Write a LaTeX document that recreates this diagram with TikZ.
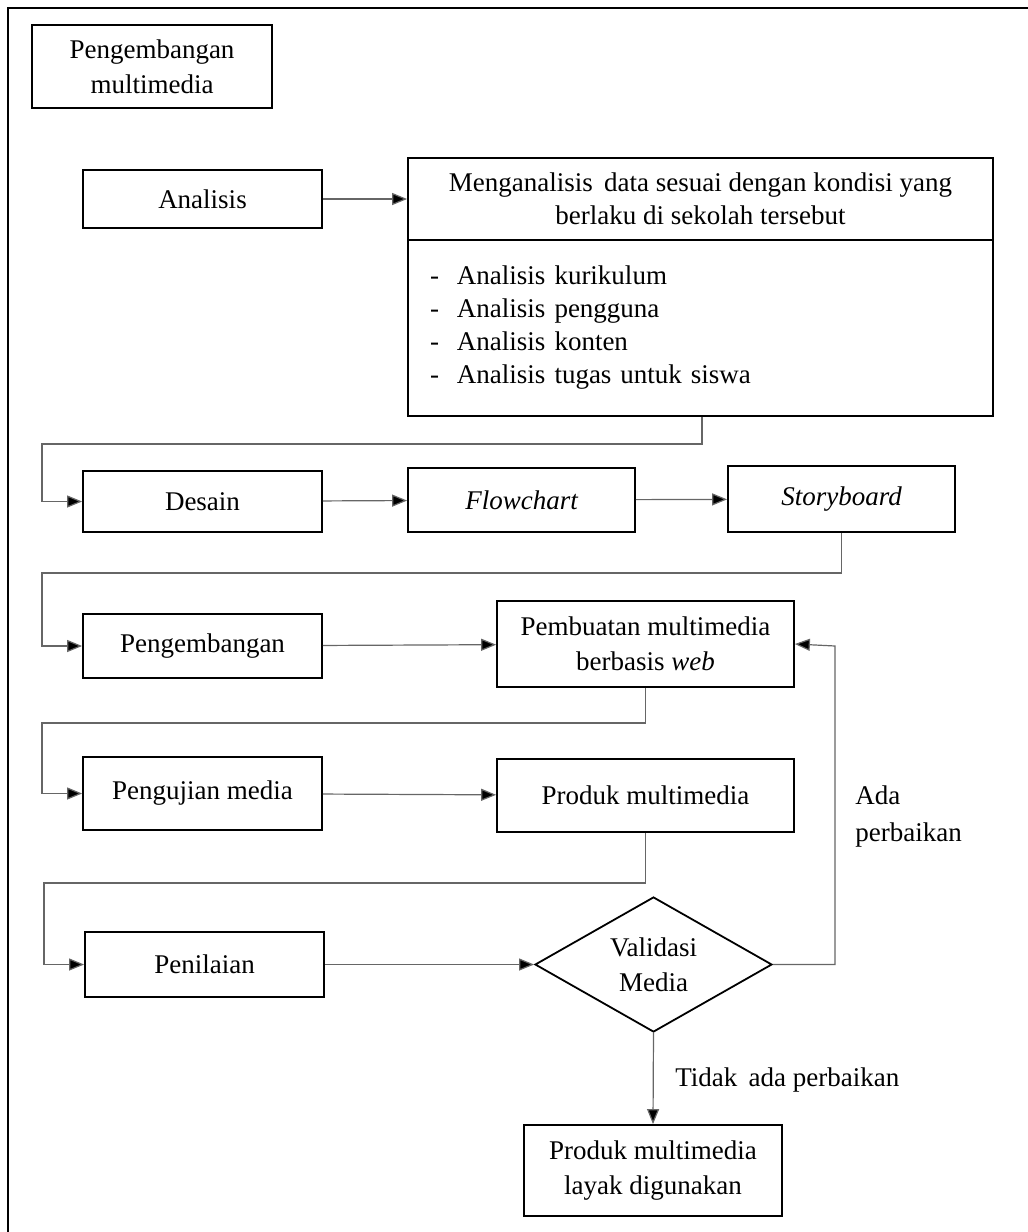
\documentclass[tikz,border=0pt]{standalone}
\usepackage{fontspec}
\setmainfont{Liberation Serif}
\usetikzlibrary{arrows.meta,shapes.geometric,positioning}

\begin{document}
\begin{tikzpicture}[
    x=0.5pt, y=-0.5pt,
    font=\fontsize{13.5}{16.5}\selectfont,
    stepbox/.style={draw, line width=0.9pt, align=center, inner sep=0pt},
    decision/.style={diamond, draw, line width=0.9pt, align=center, inner sep=0pt, aspect=1.75},
    link/.style={draw=black!60, line width=0.6pt, -{Triangle[length=7.5pt,width=6pt,fill=black]}},
    note/.style={inner sep=0pt, align=left},
    ]
    \useasboundingbox (0,0) rectangle (1028,1232);
    \draw[line width=1pt] (8,1250) -- (8,8) -- (1040,8);
    \node[stepbox, minimum width=120pt, minimum height=41.5pt] (judul) at (152,66.5) {Pengembangan\\[1pt]multimedia};
    \node[stepbox, minimum width=119.5pt, minimum height=29pt] (analisis) at (202.5,199) {Analisis};
    \node[stepbox, minimum width=292.5pt, minimum height=41pt] (tujuan) at (700.5,199) {Menganalisis\ \,data sesuai dengan kondisi yang\\berlaku di sekolah tersebut};
    \node[stepbox, minimum width=292.5pt, minimum height=88pt, align=left, text width=270.5pt] (daftar) at (700.5,328)
      {\makebox[13.5pt][l]{-}Analisis kurikulum\\
       \makebox[13.5pt][l]{-}Analisis pengguna\\
       \makebox[13.5pt][l]{-}Analisis konten\\
       \makebox[13.5pt][l]{-}Analisis tugas untuk siswa};
    \node[stepbox, minimum width=119.5pt, minimum height=30.5pt] (desain) at (202.5,501.5) {Desain};
    \node[stepbox, minimum width=113.5pt, minimum height=32pt] (flowchart) at (521.5,500) {\itshape Flowchart};
    \node[stepbox, minimum width=113.5pt, minimum height=33pt] (storyboard) at (841.5,499) {\itshape Storyboard};
    \node[stepbox, minimum width=119.5pt, minimum height=32pt] (pengembangan) at (202.5,646) {Pengembangan};
    \node[stepbox, minimum width=148.5pt, minimum height=43pt] (pembuatan) at (645.5,644) {Pembuatan multimedia\\[1pt]berbasis \textit{web}};
    \node[stepbox, minimum width=119.5pt, minimum height=36.5pt] (pengujian) at (202.5,793.5) {Pengujian media};
    \node[stepbox, minimum width=148.5pt, minimum height=36.5pt] (produk) at (645.5,795.5) {Produk multimedia};
    \node[stepbox, minimum width=119.5pt, minimum height=32.5pt] (penilaian) at (204.5,964.5) {Penilaian};
    \node[decision, minimum width=118.5pt, minimum height=67.5pt] (validasi) at (653.5,964.5) {Validasi\\[1pt]Media};
    \node[stepbox, minimum width=129pt, minimum height=45.5pt] (layak) at (653,1170.5) {Produk multimedia\\[1pt]layak digunakan};
    \node[note, anchor=west] (ada) at (855,816.5) {Ada\\[2pt]perbaikan};
    \node[note, anchor=west] (tidak) at (675,1080) {Tidak\ \,ada perbaikan};
    \draw[link] (analisis) -- (tujuan);
    \draw[link] (daftar.south -| 702,0) |- (42,444) |- (desain.west);
    \draw[link] (desain) -- (flowchart);
    \draw[link] (flowchart) -- (storyboard);
    \draw[link] (storyboard.south) |- (42,573) |- (pengembangan.west);
    \draw[link] (pengembangan) -- (pembuatan);
    \draw[link] (pembuatan.south) |- (42,723) |- (pengujian.west);
    \draw[link] (pengujian) -- (produk);
    \draw[link] (produk.south) |- (44,883) |- (penilaian.west);
    \draw[link] (penilaian) -- (validasi);
    \draw[link] (validasi.east) -| (835,646) -- (pembuatan.east);
    \draw[link] (validasi.south) -- (layak.north);
  \end{tikzpicture}
\end{document}
